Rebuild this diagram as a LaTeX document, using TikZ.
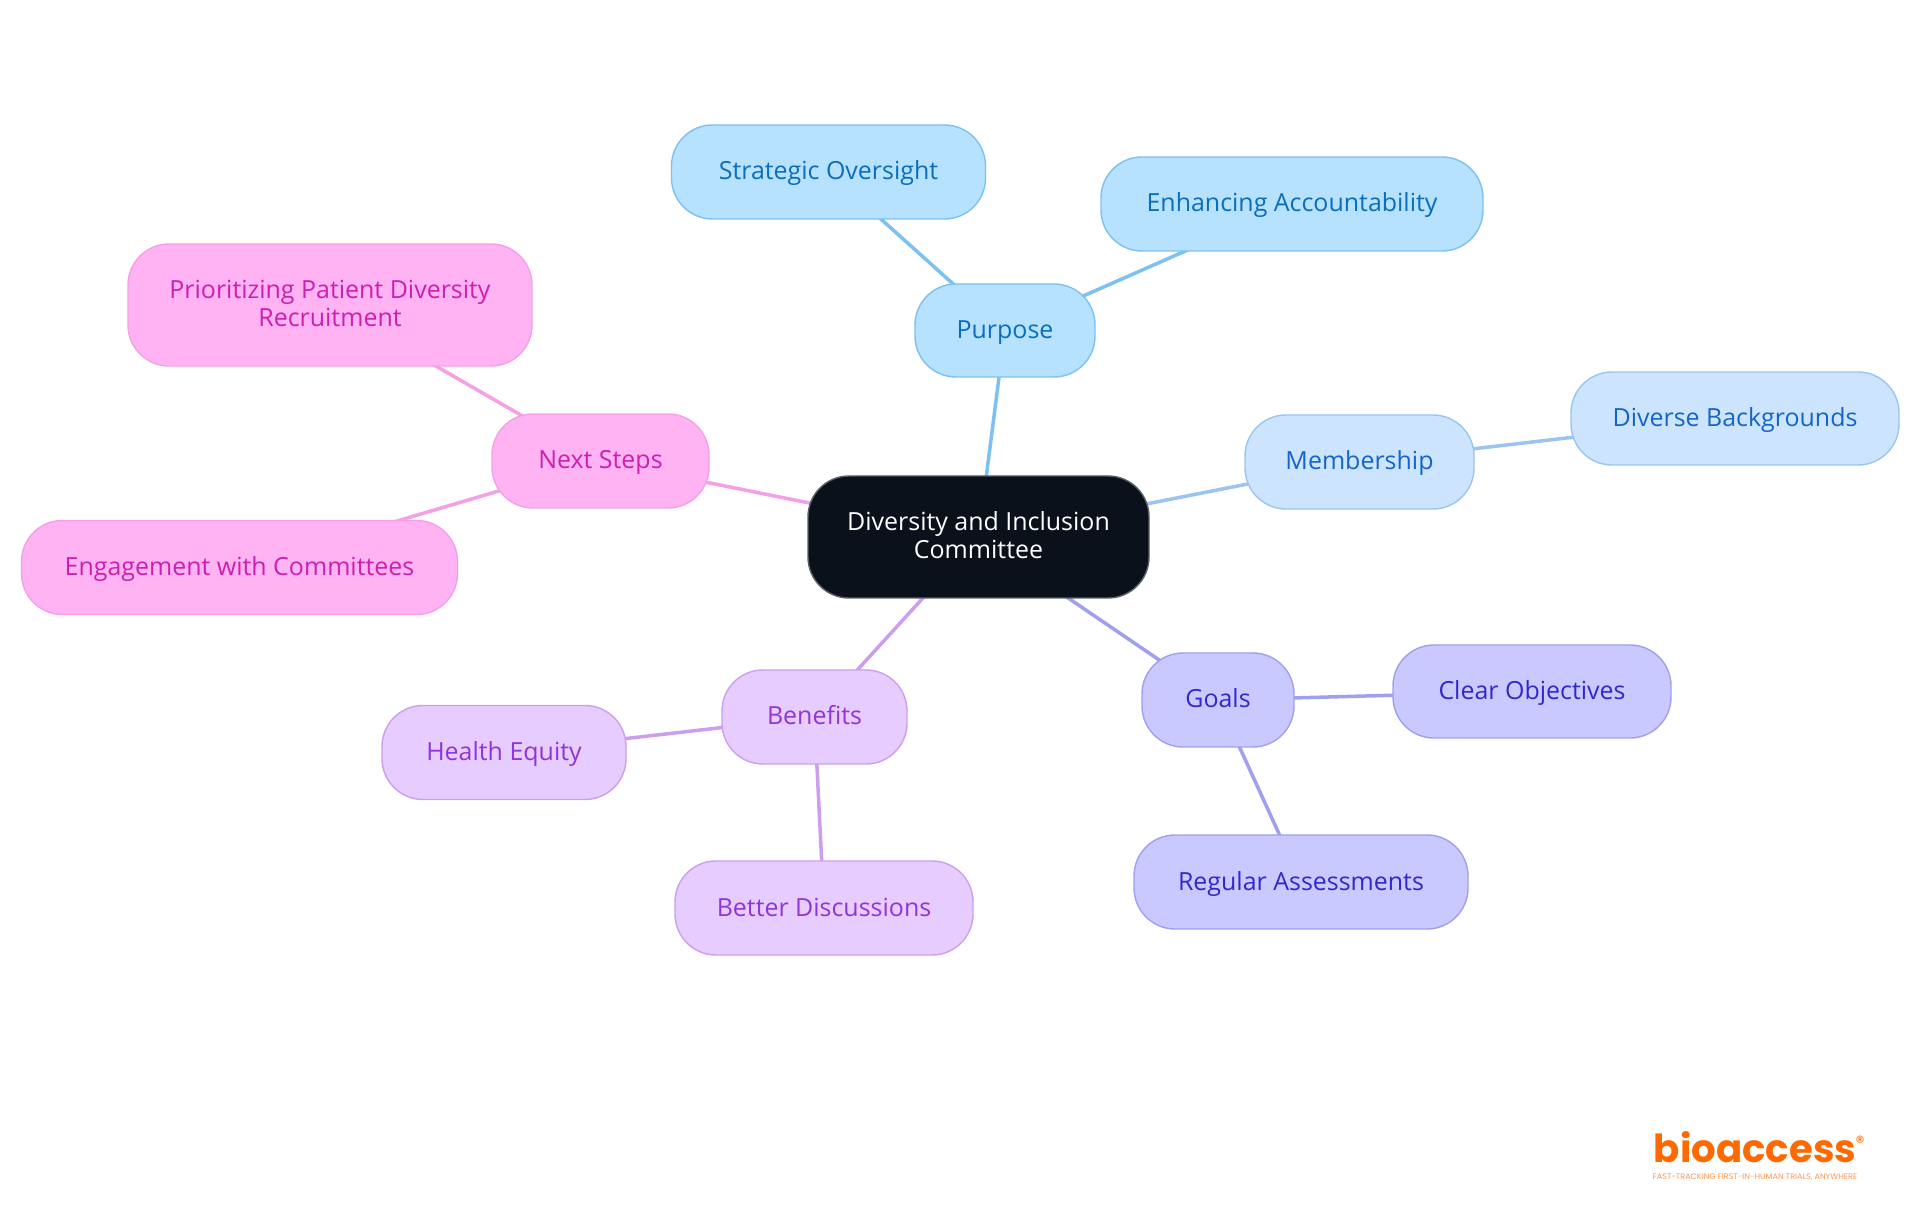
\documentclass[tikz,border=0pt]{standalone}
\usepackage{xcolor}
\usepackage{fontspec}
\setmainfont{Open Sans}
\newfontfamily\logofont{Poppins}
\usetikzlibrary{backgrounds}
\definecolor{rootfill}{HTML}{0B111A}
\definecolor{rootline}{HTML}{5A5F66}
\definecolor{purposefill}{HTML}{B6E1FF}
\definecolor{purposeline}{HTML}{7CC1F2}
\definecolor{purposetext}{HTML}{0A6EBD}
\definecolor{memberfill}{HTML}{CCE4FD}
\definecolor{memberline}{HTML}{9BC4F2}
\definecolor{membertext}{HTML}{1565C8}
\definecolor{goalsfill}{HTML}{C9C9FF}
\definecolor{goalsline}{HTML}{A09FF0}
\definecolor{goalstext}{HTML}{3228C8}
\definecolor{benefitfill}{HTML}{E6CCFF}
\definecolor{benefitline}{HTML}{CC9FEE}
\definecolor{benefittext}{HTML}{9035D8}
\definecolor{nextfill}{HTML}{FFB3F3}
\definecolor{nextline}{HTML}{F4A0E6}
\definecolor{nexttext}{HTML}{CC1FB0}
\definecolor{logoorange}{HTML}{FF6A00}
\tikzstyle{topic} = [rectangle,rounded corners=0.41cm,inner sep=0pt,align=center,line width=0.4pt,text height=0.27cm,text depth=0.11cm,font=\fontsize{7.1}{8}\selectfont]
\tikzstyle{twolines} = [text height=0.55cm,text depth=0.11cm]
\tikzstyle{rootbox} = [topic,draw=rootline,fill=rootfill,text=white]
\tikzstyle{purposebox} = [topic,draw=purposeline,fill=purposefill,text=purposetext]
\tikzstyle{memberbox} = [topic,draw=memberline,fill=memberfill,text=membertext]
\tikzstyle{goalsbox} = [topic,draw=goalsline,fill=goalsfill,text=goalstext]
\tikzstyle{benefitbox} = [topic,draw=benefitline,fill=benefitfill,text=benefittext]
\tikzstyle{nextbox} = [topic,draw=nextline,fill=nextfill,text=nexttext]
\tikzstyle{link} = [line width=1pt]

\begin{document}
\begin{tikzpicture}
\useasboundingbox (0,0) rectangle (19.2,12.15);

% Centre
\node[rootbox, twolines, minimum width=3.41cm, minimum height=1.22cm] (root) at (9.785,6.78) {Diversity and Inclusion\\Committee};

% Purpose
\node[purposebox, minimum width=1.80cm, minimum height=0.93cm] (purpose) at (10.05,8.845) {Purpose};
\node[purposebox, minimum width=3.14cm, minimum height=0.94cm] (oversight) at (8.285,10.43) {Strategic Oversight};
\node[purposebox, minimum width=3.82cm, minimum height=0.94cm] (accountability) at (12.92,10.11) {Enhancing Accountability};

% Membership
\node[memberbox, minimum width=2.29cm, minimum height=0.94cm] (membership) at (13.595,7.53) {Membership};
\node[memberbox, minimum width=3.28cm, minimum height=0.93cm] (backgrounds) at (17.35,7.965) {Diverse Backgrounds};

% Goals
\node[goalsbox, minimum width=1.52cm, minimum height=0.94cm] (goals) at (12.18,5.15) {Goals};
\node[goalsbox, minimum width=2.78cm, minimum height=0.93cm] (objectives) at (15.32,5.235) {Clear Objectives};
\node[goalsbox, minimum width=3.34cm, minimum height=0.94cm] (assessments) at (13.01,3.33) {Regular Assessments};

% Benefits
\node[benefitbox, minimum width=1.85cm, minimum height=0.94cm] (benefits) at (8.145,4.98) {Benefits};
\node[benefitbox, minimum width=2.44cm, minimum height=0.94cm] (equity) at (5.04,4.625) {Health Equity};
\node[benefitbox, minimum width=2.98cm, minimum height=0.94cm] (discussions) at (8.24,3.07) {Better Discussions};

% Next steps
\node[nextbox, minimum width=2.17cm, minimum height=0.94cm] (nextsteps) at (6.005,7.54) {Next Steps};
\node[nextbox, twolines, minimum width=4.04cm, minimum height=1.22cm] (recruitment) at (3.30,9.10) {Prioritizing Patient Diversity\\Recruitment};
\node[nextbox, minimum width=4.36cm, minimum height=0.94cm] (committees) at (2.395,6.475) {Engagement with Committees};

% Links behind the boxes
\begin{scope}[on background layer]
\draw[link, purposeline] (root.center) -- (purpose.center);
\draw[link, purposeline] (purpose.center) -- (oversight.center);
\draw[link, purposeline] (purpose.center) -- (accountability.center);
\draw[link, memberline] (root.center) -- (membership.center);
\draw[link, memberline] (membership.center) -- (backgrounds.center);
\draw[link, goalsline] (root.center) -- (goals.center);
\draw[link, goalsline] (goals.center) -- (objectives.center);
\draw[link, goalsline] (goals.center) -- (assessments.center);
\draw[link, benefitline] (root.center) -- (benefits.center);
\draw[link, benefitline] (benefits.center) -- (equity.center);
\draw[link, benefitline] (benefits.center) -- (discussions.center);
\draw[link, nextline] (root.center) -- (nextsteps.center);
\draw[link, nextline] (nextsteps.center) -- (recruitment.center);
\draw[link, nextline] (nextsteps.center) -- (committees.center);
\end{scope}

% Logo
\node[anchor=base, inner sep=0pt, text=logoorange, font=\logofont\fontsize{11}{12}\bfseries\selectfont] (logo) at (17.55,0.53) {bioaccess};
\node[inner sep=0pt, text=logoorange, font=\logofont\fontsize{5}{5}\selectfont] (registered) at (18.6,0.73) {\textregistered};
\node[inner sep=0pt, text=logoorange!70, font=\logofont\fontsize{2.3}{2}\selectfont] (tagline) at (17.55,0.38) {FAST-TRACKING FIRST-IN-HUMAN TRIALS, ANYWHERE};
\end{tikzpicture}
\end{document}
